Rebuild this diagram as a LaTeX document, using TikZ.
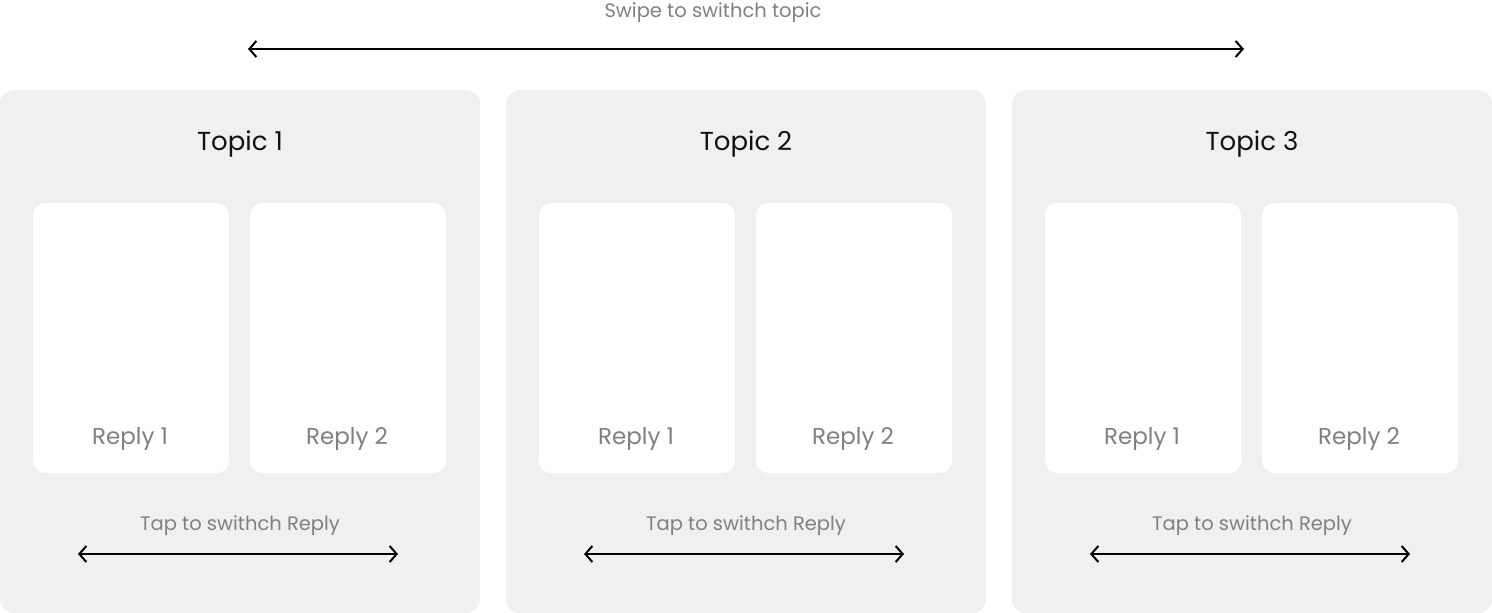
\documentclass[tikz,border=0pt]{standalone}
\usepackage{fontspec}
\setmainfont{Poppins}
\usetikzlibrary{arrows.meta,positioning}
\definecolor{panelgray}{HTML}{F0F0F0}
\definecolor{labelgray}{HTML}{808080}
\definecolor{titleblack}{HTML}{111111}

\begin{document}
\begin{tikzpicture}
                [
                x=1pt,y=-1pt,
                panel/.style={rectangle,rounded corners=14pt,fill=panelgray,minimum width=480pt,minimum height=523pt,inner sep=0pt},
                card/.style={rectangle,rounded corners=12pt,fill=white,minimum width=196pt,minimum height=270pt,inner sep=0pt},
                title/.style={anchor=base,inner sep=0pt,text=titleblack,font=\fontsize{26}{30}\selectfont},
                reply/.style={anchor=base,inner sep=0pt,text=labelgray,font=\fontsize{23}{28}\selectfont},
                hint/.style={anchor=base,inner sep=0pt,text=labelgray,font=\fontsize{19.5}{24}\selectfont},
                swipe/.style={{Straight Barb[length=7pt,width=16pt]}-{Straight Barb[length=7pt,width=16pt]},line width=2pt,black}
                ]
            \useasboundingbox (0,0) rectangle (1492,613);
            % panels
            \node[panel] (p1) at (240,351.5) {};
            \node[panel] (p2) at (746,351.5) {};
            \node[panel] (p3) at (1252,351.5) {};
            \node[title] (t1) at (240,150) {Topic 1};
            \node[title] (t2) at (746,150) {Topic 2};
            \node[title] (t3) at (1252,150) {Topic 3};
            % reply cards
            \node[card] (c11) at (131,338) {};
            \node[card] (c12) at (348,338) {};
            \node[card] (c21) at (637,338) {};
            \node[card] (c22) at (854,338) {};
            \node[card] (c31) at (1143,338) {};
            \node[card] (c32) at (1360,338) {};
            \node[reply] (l11) at (130,444) {Reply 1};
            \node[reply] (l12) at (347,444) {Reply 2};
            \node[reply] (l21) at (636,444) {Reply 1};
            \node[reply] (l22) at (853,444) {Reply 2};
            \node[reply] (l31) at (1142,444) {Reply 1};
            \node[reply] (l32) at (1359,444) {Reply 2};
            % tap hints
            \node[hint] (h1) at (240,530) {Tap to swithch Reply};
            \node[hint] (h2) at (746,530) {Tap to swithch Reply};
            \node[hint] (h3) at (1252,530) {Tap to swithch Reply};
            \coordinate (a1) at (78,554);
            \coordinate (b1) at (398,554);
            \coordinate (a2) at (584,554);
            \coordinate (b2) at (904,554);
            \coordinate (a3) at (1090,554);
            \coordinate (b3) at (1410,554);
            \draw[swipe] (a1) -- (b1);
            \draw[swipe] (a2) -- (b2);
            \draw[swipe] (a3) -- (b3);
            % swipe between topics
            \node[hint] (s) at (713,17) {Swipe to swithch topic};
            \coordinate (sa) at (248,49);
            \coordinate (sb) at (1244,49);
            \draw[swipe] (sa) -- (sb);
            \end{tikzpicture}
\end{document}
